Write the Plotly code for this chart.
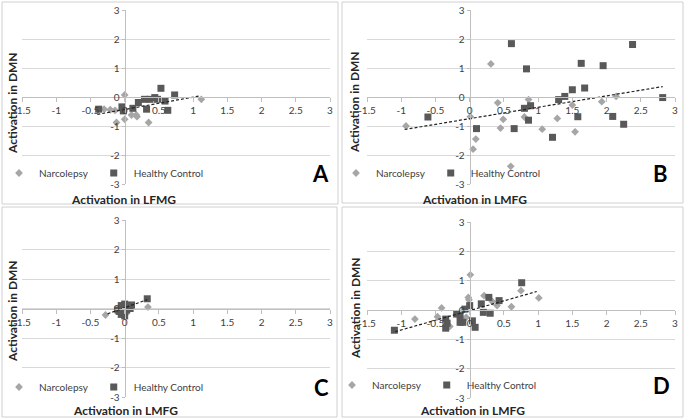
import plotly.graph_objects as go

# ---- data ----
a_narc_x = [0.0, -0.30, -0.21, -0.14, -0.12, 0.0, 0.10, 0.17, 0.18, 0.35, 1.12]
a_narc_y = [0.07, -0.42, -0.44, -0.46, -0.88, -0.77, -0.62, -0.62, -0.68, -0.88, -0.08]
a_hc_x = [-0.38, -0.04, -0.02, 0.12, 0.20, 0.29, 0.37, 0.44, 0.53, 0.59, 0.63, 0.73, 0.32, 0.48]
a_hc_y = [-0.42, -0.34, -0.48, -0.39, -0.19, -0.08, -0.08, -0.02, 0.30, -0.14, -0.46, 0.07, -0.42, -0.08]
a_trend_x = [-0.40, 1.08]
a_trend_y = [-0.60, 0.03]

b_narc_x = [-0.93, 0.01, 0.05, 0.09, 0.31, 0.41, 0.49, 0.45, 0.60, 0.80, 0.86, 1.06, 1.28, 1.50, 1.54, 1.93, 2.14]
b_narc_y = [-1.00, -0.68, -1.80, -1.45, 1.14, -0.20, -0.77, -1.07, -2.39, -0.69, -0.09, -1.11, -0.74, -0.28, -1.20, -0.16, 0.02]
b_hc_x = [0.61, 0.83, 1.63, 1.95, 2.38, 1.68, 1.50, 1.39, 1.30, 0.89, 0.80, 0.86, -0.61, 0.10, 0.65, 1.21, 1.58, 2.09, 2.25, 2.82]
b_hc_y = [1.84, 0.97, 1.16, 1.08, 1.81, 0.31, 0.25, 0.02, -0.09, -0.30, -0.39, -0.80, -0.69, -1.09, -1.09, -1.39, -0.68, -0.67, -0.94, -0.02]
b_trend_x = [-0.95, 2.82]
b_trend_y = [-1.12, 0.36]

c_narc_x = [-0.28, 0.34, -0.04, 0.02, 0.06, -0.08]
c_narc_y = [-0.22, 0.05, -0.12, -0.18, 0.06, -0.05]
c_hc_x = [-0.05, 0.00, 0.05, 0.10, -0.08, -0.05, 0.00, 0.03, -0.02, 0.08, 0.33, -0.10, 0.02, -0.03]
c_hc_y = [0.10, 0.15, 0.05, 0.12, -0.10, -0.20, -0.25, -0.05, 0.00, 0.00, 0.33, -0.05, 0.08, -0.15]
c_trend_x = [-0.25, 0.33]
c_trend_y = [-0.18, 0.30]

d_narc_x = [0.01, -0.02, -0.01, 0.21, 0.33, 0.40, 0.61, 0.75, 1.01, -0.80, -0.41, -0.47, -0.29, -0.05]
d_narc_y = [1.20, 0.43, 0.35, 0.49, 0.29, 0.15, 0.11, 0.66, 0.41, -0.31, 0.07, -0.23, -0.56, -0.25]
d_hc_x = [-1.10, 0.76, 0.28, 0.43, 0.17, 0.20, 0.30, 0.00, -0.07, 0.08, 0.04, -0.10, -0.14, -0.19, -0.35, -0.35, -0.33, -0.14]
d_hc_y = [-0.69, 0.93, 0.43, 0.32, 0.21, -0.08, -0.11, 0.15, 0.03, -0.59, -0.37, -0.42, -0.19, -0.14, -0.31, -0.62, -0.45, -0.42]
d_trend_x = [-1.09, 0.98]
d_trend_y = [-0.74, 0.63]

x_ticks = [-1.5, -1, -0.5, 0, 0.5, 1, 1.5, 2, 2.5, 3]
x_labels = ["-1.5", "-1", "-0.5", "0", "0.5", "1", "1.5", "2", "2.5", "3"]
y_ticks = [-3, -2, -1, 0, 1, 2, 3]
y_labels = ["-3", "-2", "-1", "0", "1", "2", "3"]

panels = [
    dict(letter="A", xt="Activation in LFMG", nx=a_narc_x, ny=a_narc_y, hx=a_hc_x, hy=a_hc_y, tx=a_trend_x, ty=a_trend_y,
         px=(22, 330), py=(10, 184), box=(2, 2, 338, 204), leg=(-1, 173), let=(320, 173), ytl=(12, 103), xtl=(123, 199)),
    dict(letter="B", xt="Activation in LMFG", nx=b_narc_x, ny=b_narc_y, hx=b_hc_x, hy=b_hc_y, tx=b_trend_x, ty=b_trend_y,
         px=(367, 675), py=(10, 184), box=(342, 2, 683, 203), leg=(336, 173), let=(660, 173), ytl=(355, 102), xtl=(474, 200)),
    dict(letter="C", xt="Activation in LMFG", nx=c_narc_x, ny=c_narc_y, hx=c_hc_x, hy=c_hc_y, tx=c_trend_x, ty=c_trend_y,
         px=(22, 330), py=(220, 397), box=(2, 207, 337, 417), leg=(-1, 387), let=(321, 387), ytl=(12, 311), xtl=(125, 410)),
    dict(letter="D", xt="Activation in LMFG", nx=d_narc_x, ny=d_narc_y, hx=d_hc_x, hy=d_hc_y, tx=d_trend_x, ty=d_trend_y,
         px=(367, 675), py=(222, 398), box=(342, 207, 683, 417), leg=(332, 385), let=(661, 385), ytl=(355, 308), xtl=(473, 410)),
]

W, H = 685, 419
FONT = "Lato"
fx = lambda p: p / W
fy = lambda p: 1 - p / H

fig = go.Figure()
layout = dict(width=W, height=H, margin=dict(l=0, r=0, t=0, b=0, autoexpand=False),
              paper_bgcolor="white", plot_bgcolor="white",
              font=dict(family=FONT, size=10, color="#404040"),
              shapes=[], annotations=[])

for i, p in enumerate(panels):
    n = "" if i == 0 else str(i + 1)
    leg = "legend" + n
    xa, ya = "x" + n, "y" + n
    fig.add_trace(go.Scatter(x=p["nx"], y=p["ny"], mode="markers", name="Narcolepsy",
                             marker=dict(symbol="diamond", size=6, color="#a6a6a6"),
                             xaxis=xa, yaxis=ya, legend=leg))
    fig.add_trace(go.Scatter(x=p["hx"], y=p["hy"], mode="markers", name="Healthy Control",
                             marker=dict(symbol="square", size=7, color="#595959"),
                             xaxis=xa, yaxis=ya, legend=leg))
    fig.add_trace(go.Scatter(x=p["tx"], y=p["ty"], mode="lines", showlegend=False,
                             line=dict(color="#222222", width=1.2, dash="3px,2px"),
                             xaxis=xa, yaxis=ya))

    xd = [fx(p["px"][0]), fx(p["px"][1])]
    yd = [fy(p["py"][1]), fy(p["py"][0])]
    zero_y = yd[0] + (0 - (-3)) / 6 * (yd[1] - yd[0])
    zero_x = xd[0] + (0 - (-1.5)) / 4.5 * (xd[1] - xd[0])

    layout["xaxis" + n] = dict(domain=xd, range=[-1.5, 3], anchor="free", position=zero_y,
                               tickvals=x_ticks, ticktext=x_labels, showgrid=False, zeroline=False,
                               showline=True, linecolor="#bfbfbf", linewidth=1,
                               ticks="outside", ticklen=4, tickcolor="#bfbfbf",
                               tickfont=dict(size=10, color="#404040"), fixedrange=True)
    layout["yaxis" + n] = dict(domain=yd, range=[-3, 3], anchor="free", position=zero_x,
                               tickvals=y_ticks, ticktext=y_labels, showgrid=True, gridcolor="#d9d9d9",
                               zeroline=False, showline=True, linecolor="#bfbfbf", linewidth=1,
                               ticks="outside", ticklen=3, tickcolor="#bfbfbf",
                               tickfont=dict(size=10, color="#404040"), fixedrange=True)
    layout[leg] = dict(orientation="h", x=fx(p["leg"][0]), y=fy(p["leg"][1]),
                       xanchor="left", yanchor="middle", bgcolor="rgba(0,0,0,0)",
                       font=dict(family=FONT, size=10, color="#404040"),
                       itemwidth=30, tracegroupgap=0)

    b = p["box"]
    layout["shapes"].append(dict(type="rect", xref="paper", yref="paper",
                                 x0=fx(b[0]), x1=fx(b[2]), y0=fy(b[3]), y1=fy(b[1]),
                                 line=dict(color="#d0d0d0", width=1), layer="below"))
    layout["annotations"] += [
        dict(text="<b>%s</b>" % p["letter"], x=fx(p["let"][0]), y=fy(p["let"][1]),
             xref="paper", yref="paper", showarrow=False, xanchor="center", yanchor="middle",
             font=dict(family=FONT, size=22, color="black")),
        dict(text="<b>Activation in DMN</b>", x=fx(p["ytl"][0]), y=fy(p["ytl"][1]), textangle=-90,
             xref="paper", yref="paper", showarrow=False, xanchor="center", yanchor="middle",
             font=dict(family=FONT, size=12, color="#262626")),
        dict(text="<b>%s</b>" % p["xt"], x=fx(p["xtl"][0]), y=fy(p["xtl"][1]),
             xref="paper", yref="paper", showarrow=False, xanchor="center", yanchor="middle",
             font=dict(family=FONT, size=12, color="#262626")),
    ]

fig.update_layout(**layout)
fig.write_html("out.html", config={"displayModeBar": False},
               post_script="document.body.style.margin='0';")
